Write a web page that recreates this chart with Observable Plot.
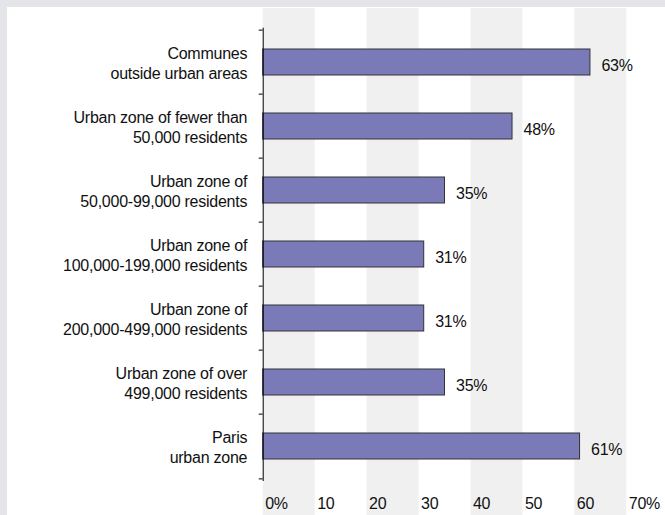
<!DOCTYPE html>
<html><head><meta charset="utf-8">
<script src="https://cdn.jsdelivr.net/npm/d3@7"></script>
<script src="https://cdn.jsdelivr.net/npm/@observablehq/plot@0.6"></script>
<style>
html,body{margin:0;padding:0;background:#e4e5e8;width:665px;height:515px;overflow:hidden}
#chart{position:absolute;left:7px;top:7px;width:658px;height:508px;background:#fff}
#chart svg{display:block}
#chart svg text{letter-spacing:-0.25px}
</style></head><body><div id="chart"></div>
<script>
const categories = [
  "Communes\noutside urban areas",
  "Urban zone of fewer than\n50,000 residents",
  "Urban zone of\n50,000-99,000 residents",
  "Urban zone of\n100,000-199,000 residents",
  "Urban zone of\n200,000-499,000 residents",
  "Urban zone of over\n499,000 residents",
  "Paris\nurban zone"
];
const values = [63, 48, 35, 31, 31, 35, 61];
const valueLabels = ["63%", "48%", "35%", "31%", "31%", "35%", "61%"];
const xTicks = [0, 10, 20, 30, 40, 50, 60, 70];
const xTickLabels = ["0%", "10", "20", "30", "40", "50", "60", "70%"];
const bandStarts = [0, 20, 40, 60];
const bandWidth = 10;

const W = 658, H = 508, mL = 255.7, mR = 38.7, mT = 20.7, mB = 34;
const step = (H - mT - mB) / categories.length;
const data = categories.map((c, i) => ({cat: c, v: values[i], lab: valueLabels[i]}));
const bands = bandStarts.map(s => ({x1: s, x2: s + bandWidth}));
const font = "'Liberation Sans', Arial, sans-serif";

const plot = Plot.plot({
  width: W, height: H,
  marginLeft: mL, marginRight: mR, marginTop: mT, marginBottom: mB,
  style: {fontFamily: font, fontSize: "16px", color: "#111", background: "transparent", overflow: "visible"},
  x: {domain: [0, 70], label: null},
  y: {domain: categories, padding: 0, label: null},
  marks: [
    Plot.rect(bands, {x1: "x1", x2: "x2", fill: "#f0f0f0", insetTop: -(mT - 1), insetBottom: -mB}),
    Plot.barX(data, {y: "cat", x: "v", fill: "#7b7ab8", stroke: "#333", strokeWidth: 1, insetTop: 19, insetBottom: 19}),
    Plot.text(data, {y: "cat", x: "v", text: "lab", textAnchor: "start", dx: 11, dy: 3, fontSize: 16}),
    Plot.text(data, {y: "cat", text: "cat", frameAnchor: "left", textAnchor: "end", dx: -16, lineHeight: 1.25, fontSize: 16}),
    Plot.axisX({ticks: xTicks, tickFormat: d => xTickLabels[xTicks.indexOf(d)], tickSize: 0, tickPadding: 16, textAnchor: "start", dx: 2, fontSize: 16}),
    Plot.axisY({tickSize: 4, tickFormat: () => "", dy: -step / 2, stroke: "#000"}),
    Plot.axisY(categories.slice(-1), {tickSize: 4, tickFormat: () => "", dy: step / 2, stroke: "#000"}),
    Plot.ruleX([0], {stroke: "#000"})
  ]
});
document.getElementById("chart").appendChild(plot);
</script>
</body></html>
